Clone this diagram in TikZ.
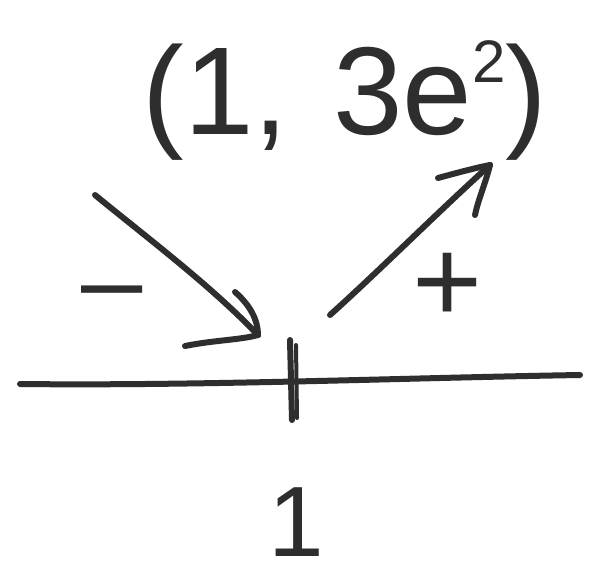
\documentclass[tikz,border=0pt]{standalone}
\usepackage{fontspec}
\setmainfont{Liberation Sans}
\begin{document}
\begin{tikzpicture}[x=1pt,y=-1pt,
  pen/.style={draw=black!82, line width=6pt, line cap=round, line join=round},
  hand/.style={text=black!82, inner sep=0pt}]
\useasboundingbox (0,0) rectangle (610,587);
\fill[white] (0,0) rectangle (610,587);
% number line
\coordinate (L) at (20,384);
\coordinate (R) at (580,375);
\draw[pen] (L) .. controls (200,386) and (400,378) .. (R);
% tick
\coordinate (Ttop) at (290,340);
\coordinate (Tbot) at (292,420);
\draw[pen] (Ttop) -- (Tbot);
\draw[pen, line width=4pt] (296,345) -- (297,418);
% label 1
\node[hand, font=\fontsize{100}{100}\selectfont] (one) at (296,522) {1};
% left arrow (-)
\coordinate (ls) at (95,195);
\coordinate (le) at (258,335);
\draw[pen] (ls) .. controls (150,240) and (210,285) .. (le);
\draw[pen] (235,292) .. controls (250,305) and (258,320) .. (le);
\draw[pen] (185,346) .. controls (215,340) and (240,340) .. (le);
\node[hand, font=\fontsize{110}{110}\selectfont] (minus) at (112,302) {–};
% right arrow (+)
\coordinate (rs) at (330,315);
\coordinate (re) at (490,165);
\draw[pen] (rs) .. controls (380,270) and (440,210) .. (re);
\draw[pen] (438,178) .. controls (460,172) and (475,168) .. (re);
\draw[pen] (re) .. controls (485,185) and (478,200) .. (475,215);
\node[hand, font=\fontsize{120}{120}\selectfont] (plus) at (448,288) {+};
% point label
\node[hand, font=\fontsize{125}{125}\selectfont] (pt) at (345,100) {(1,\hspace{45pt}3e\raisebox{52pt}{\fontsize{60}{60}\selectfont 2})};
\end{tikzpicture}
\end{document}
